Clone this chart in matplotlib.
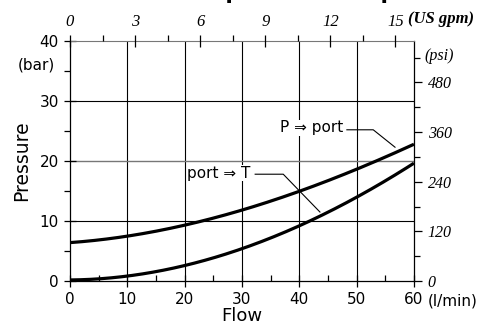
import matplotlib.pyplot as plt
import numpy as np

# flow (l/min) and pressure drop (bar)
flow = [0, 10, 20, 30, 40, 50, 60]
p_to_port = [6.4, 7.5, 9.3, 11.8, 15.0, 18.6, 22.8]
port_to_t = [0.15, 0.9, 2.6, 5.3, 9.2, 14.05, 19.6]

x_ticks = [0, 10, 20, 30, 40, 50, 60]
y_ticks = [0, 10, 20, 30, 40]
gpm_ticks = [0, 3, 6, 9, 12, 15]
psi_ticks = [0, 120, 240, 360, 480]

LPM_PER_GPM = 3.78541
PSI_PER_BAR = 14.5038

fig = plt.figure(figsize=(4.83, 3.33), dpi=100)
ax = fig.add_axes([0.145, 0.156, 0.712, 0.721])

# smooth curves through the read points
xs = np.linspace(0, 60, 200)
for ys in (p_to_port, port_to_t):
    c = np.polyfit(flow, ys, 3)
    ax.plot(xs, np.polyval(c, xs), color='black', lw=2.3, solid_capstyle='butt', zorder=3)

ax.set_xlim(0, 60)
ax.set_ylim(0, 40)

# grid
for x in x_ticks[1:-1]:
    ax.axvline(x, color='black', lw=0.8, zorder=1)
for y in (10, 30):
    ax.axhline(y, color='black', lw=0.8, zorder=1)
ax.axhline(20, color='#777777', lw=1.0, zorder=1)

ax.spines['top'].set_color('#777777')
for s in ('left', 'bottom', 'right'):
    ax.spines[s].set_linewidth(0.9)

ax.set_xticks(x_ticks)
ax.set_yticks(y_ticks)
ax.set_xticks(np.arange(5, 60, 10), minor=True)
ax.set_yticks(np.arange(5, 40, 10), minor=True)
ax.tick_params(which='major', direction='inout', length=8, width=0.9, labelsize=11, pad=4)
ax.tick_params(axis='x', which='minor', direction='in', length=4, width=0.9)
ax.tick_params(axis='y', which='minor', direction='out', length=4, width=0.9)
ax.set_xlabel('Flow', fontsize=13, labelpad=0)
ax.set_ylabel('Pressure', fontsize=13.5, labelpad=6)
ax.text(-0.044, 0.9, '(bar)', transform=ax.transAxes, ha='right', va='center', fontsize=11)
ax.text(1.04, -0.085, '(l/min)', transform=ax.transAxes, ha='left', va='center', fontsize=11)

serif = 'Liberation Serif'

# top axis in US gpm
top = ax.twiny()
top.set_xlim(0, 60 / LPM_PER_GPM)
top.set_xticks(gpm_ticks)
top.set_xticks(np.arange(1.5, 16, 3), minor=True)
top.tick_params(which='major', direction='inout', length=8, width=0.9, pad=4)
top.tick_params(which='minor', direction='out', length=4, width=0.9)
for lab in top.get_xticklabels():
    lab.set_fontfamily(serif)
    lab.set_fontstyle('italic')
    lab.set_fontsize(12)
top.text(0.982, 1.09, '(US gpm)', transform=ax.transAxes, ha='left', va='center',
         fontsize=12, family=serif, style='italic', weight='bold')

# right axis in psi
right = ax.twinx()
right.set_ylim(0, 40 * PSI_PER_BAR)
right.set_yticks(psi_ticks)
right.set_yticks(np.arange(60, 580, 120), minor=True)
right.tick_params(which='major', direction='out', length=6, width=0.9, pad=4)
right.tick_params(which='minor', direction='out', length=4, width=0.9)
for lab in right.get_yticklabels():
    lab.set_fontfamily(serif)
    lab.set_fontstyle('italic')
    lab.set_fontsize(11.5)
right.text(1.03, 0.9375, '(psi)', transform=ax.transAxes, ha='left', va='center',
           fontsize=11.5, family=serif, style='italic')
for a in (top, right):
    for s in a.spines.values():
        s.set_visible(False)

# curve labels with leader lines
ax.text(42.1, 25.5, 'P \u21d2 port', ha='center', va='center', fontsize=11, zorder=4,
        bbox=dict(facecolor='white', edgecolor='none', pad=0.5))
ax.plot([48.3, 52.9, 56.7], [25.2, 25.2, 22.3], color='black', lw=0.8, zorder=4)
ax.text(26.0, 18.0, 'port \u21d2 T', ha='center', va='center', fontsize=11, zorder=4,
        bbox=dict(facecolor='white', edgecolor='none', pad=0.5))
ax.plot([32.3, 37.2, 43.6], [17.8, 17.8, 11.5], color='black', lw=0.8, zorder=4)

# title, mostly cut off at the top edge as in the original
fig.text(0.542, 1.003, 'Flow vs pressure drop', ha='center', va='baseline',
         fontsize=15.5, weight='bold')

fig.savefig('out.png', dpi=100)
